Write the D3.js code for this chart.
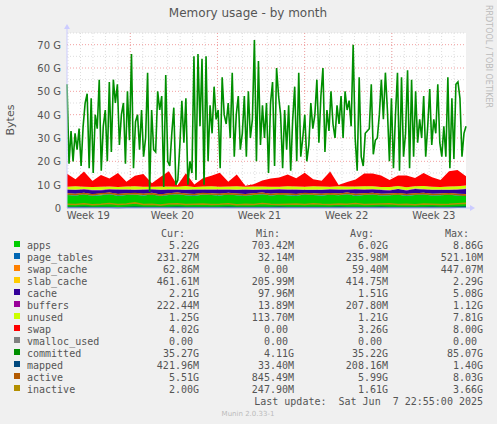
<!DOCTYPE html>
<html lang="en">
<head>
<meta charset="UTF-8">
<title>Memory usage - by month</title>
<script src="https://d3js.org/d3.v7.min.js"></script>
<style>
  body { margin: 0; background: #f0f0f0; }
  svg { display: block; font-family: "DejaVu Sans", sans-serif; }
  .mono { font-family: "DejaVu Sans Mono", monospace; font-size: 10px; fill: #555; white-space: pre; }
</style>
</head>
<body>
<svg id="chart" width="497" height="424"></svg>
<script>
// time range of the graph
const startTime = new Date(2025, 4, 6, 22, 0);
const endTime = new Date(2025, 5, 7, 23, 0);
const weekStarts = [new Date(2025, 4, 12), new Date(2025, 4, 19), new Date(2025, 4, 26), new Date(2025, 5, 2)];
const weekLabels = ["Week 19", "Week 20", "Week 21", "Week 22", "Week 23"];
const yTicks = [0, 10, 20, 30, 40, 50, 60, 70];

// stacked series (G), equally spaced in time
const apps = [5.6,5.4,5.8,5.2,5.5,5.9,5.3,5.6,5.7,5.4,5.8,5.1,5.6,5.9,5.5,5.3,5.7,5.6,5.4,5.8,5.5,5.2,5.6,5.9,5.4,5.7,5.5,5.3,5.8,5.6,5.4,5.7,5.5,5.9,5.3,5.6,5.8,5.4,5.5,5.7,5.3,5.6,5.8,5.4,5.5,5.7,5.4,5.2];
const page_tables = [0.24,0.23,0.25,0.22,0.24,0.26,0.23,0.24,0.22,0.25,0.24,0.23,0.24,0.25,0.23,0.24,0.22,0.24,0.25,0.23,0.24,0.26,0.23,0.24,0.22,0.24,0.25,0.23,0.24,0.23,0.25,0.24,0.22,0.24,0.25,0.23,0.24,0.26,0.23,0.24,0.22,0.24,0.25,0.23,0.24,0.23,0.24,0.23];
const swap_cache = [0.06,0.05,0.08,0.04,0.06,0.07,0.05,0.06,0.09,0.05,0.06,0.04,0.07,0.06,0.05,0.08,0.06,0.05,0.06,0.07,0.04,0.06,0.05,0.08,0.06,0.05,0.06,0.07,0.05,0.06,0.04,0.07,0.06,0.05,0.08,0.06,0.05,0.06,0.07,0.05,0.06,0.04,0.07,0.06,0.05,0.06,0.07,0.06];
const slab_cache = [0.42,0.40,0.44,0.39,0.41,0.43,0.40,0.42,0.45,0.40,0.41,0.39,0.42,0.44,0.40,0.41,0.43,0.40,0.42,0.41,0.39,0.43,0.40,0.42,0.44,0.40,0.41,0.42,0.39,0.43,0.40,0.41,0.42,0.40,0.44,0.41,0.40,0.42,0.43,0.40,0.41,0.39,0.42,0.43,0.40,0.41,0.44,0.46];
const cache = [1.5,1.7,1.3,1.8,1.4,1.2,1.9,1.5,1.3,1.7,1.4,2.0,1.5,1.2,1.6,1.8,1.4,1.5,1.7,1.3,1.6,1.9,1.4,1.2,1.7,1.5,1.6,1.8,1.3,1.4,1.7,1.5,1.6,1.2,1.8,1.5,1.4,1.6,1.3,1.7,1.5,1.9,1.4,1.6,1.5,1.3,1.7,2.2];
const buffers = [0.21,0.20,0.22,0.19,0.21,0.23,0.20,0.21,0.22,0.20,0.21,0.19,0.22,0.21,0.20,0.22,0.21,0.20,0.21,0.22,0.19,0.21,0.20,0.22,0.21,0.20,0.21,0.22,0.20,0.21,0.19,0.22,0.21,0.20,0.22,0.21,0.20,0.21,0.22,0.20,0.21,0.19,0.22,0.21,0.20,0.21,0.22,0.22];
const unused = [1.1,1.3,1.0,1.2,1.3,1.1,0.9,1.2,1.3,1.1,1.0,1.3,1.2,1.1,1.4,1.0,1.2,1.3,1.1,1.2,1.4,1.0,1.3,1.2,1.1,1.0,1.3,1.2,1.1,1.4,1.2,1.0,1.3,1.2,1.1,1.3,1.2,1.0,1.3,1.1,1.2,1.0,1.3,1.2,1.1,1.3,1.2,1.25];
const swap = [5.5,3.0,6.5,2.5,5.0,3.5,6.0,2.0,4.5,5.5,1.5,4.0,6.5,0.5,5.5,1.0,3.5,4.5,6.0,2.0,5.0,0.5,1.0,2.5,3.5,4.0,5.0,3.5,6.0,3.0,2.5,6.5,0.5,2.0,3.0,5.5,5.5,5.0,3.0,4.5,5.0,3.5,5.5,4.0,3.0,6.5,7.0,4.0];
// lines
const active = [6.0,5.8,6.2,5.7,6.1,6.3,5.8,6.0,6.2,5.9,6.1,5.6,6.0,6.3,5.9,5.8,6.2,6.0,5.9,6.1,5.9,5.7,6.0,6.3,5.8,6.1,6.0,5.8,6.2,6.0,5.9,6.1,5.9,6.3,5.8,6.0,6.2,5.8,5.9,6.1,5.8,6.0,6.2,5.8,5.9,6.1,5.8,5.5];
const inactive = [1.6,1.5,1.8,1.4,1.6,1.9,1.5,1.7,2.2,1.5,1.6,1.3,1.7,1.8,1.5,1.6,1.7,1.5,1.6,1.8,1.4,1.6,1.5,1.9,1.6,1.5,1.6,1.7,1.5,1.8,1.6,1.5,1.7,1.6,1.9,1.5,1.6,1.7,1.8,1.5,1.6,1.4,1.7,1.6,1.5,1.6,1.8,2.0];
const mapped = [0.2,0.2,0.3,0.2,0.2,0.2,0.1,0.2,0.3,0.2,0.2,0.2,0.2,0.3,0.2,0.2,0.2,0.2,0.2,0.3,0.2,0.2,0.2,0.2,0.2,0.3,0.2,0.2,0.2,0.2,0.2,0.2,0.3,0.2,0.2,0.2,0.2,0.3,0.2,0.2,0.2,0.2,0.2,0.3,0.2,0.2,0.3,0.42];
const committed = [53,19,33,20,32,25,34,18,35,45,49,17,47,15,40,34,55,16,35,42,20,54,24,55,45,53,27,40,45,19,50,29,66,17,37,40,25,42,22,30,58,7,42,25,24,50,42,48,9,57,20,18,32,43,10,12,27,46,28,47,10,20,15,65,12,66,35,64,10,65,20,44,32,52,38,42,17,56,40,36,45,30,58,22,40,48,25,32,48,22,50,30,38,72,20,63,27,44,30,45,15,45,54,18,60,48,40,17,42,25,44,16,38,52,20,58,22,30,40,20,27,45,34,40,55,28,48,60,24,42,33,50,36,30,44,36,48,30,50,42,46,35,70,30,16,56,22,18,32,33,34,53,23,29,30,40,55,38,58,42,20,47,17,40,58,16,56,22,32,59,17,55,22,50,28,38,30,48,22,35,51,27,38,32,53,28,22,35,22,56,17,47,21,53,54,47,22,32,35];

const legendNames = ["apps","page_tables","swap_cache","slab_cache","cache","buffers","unused","swap","vmalloc_used","committed","mapped","active","inactive"];
const legendColors = ["#00CC00","#0066B3","#FF8000","#FFCC00","#330099","#990099","#CCFF00","#FF0000","#808080","#008F00","#00487D","#B35A00","#B38F00"];
const curVals = ["5.22G","231.27M","62.86M","461.61M","2.21G","222.44M","1.25G","4.02G","0.00","35.27G","421.96M","5.51G","2.00G"];
const minVals = ["703.42M","32.14M","0.00","205.99M","97.96M","13.89M","113.70M","0.00","0.00","4.11G","33.40M","845.49M","247.90M"];
const avgVals = ["6.02G","235.98M","59.40M","414.75M","1.51G","207.80M","1.21G","3.26G","0.00","35.22G","208.16M","5.99G","1.61G"];
const maxVals = ["8.86G","521.10M","447.07M","2.29G","5.08G","1.12G","7.81G","8.00G","0.00","85.07G","1.40G","8.03G","3.66G"];

const svg = d3.select("#chart");
const pLeft = 67, pRight = 466, pTop = 33, pBottom = 208;

const x = d3.scaleTime().domain([startTime, endTime]).range([pLeft, pRight]);
const y = d3.scaleLinear().domain([0, 75]).range([pBottom, pTop]);
const tAt = (i, n) => new Date(+startTime + (endTime - startTime) * i / (n - 1));

svg.append("rect").attr("x", pLeft).attr("y", pTop).attr("width", pRight - pLeft).attr("height", pBottom - pTop).attr("fill", "#fff");

// grid
const days = d3.timeDay.range(startTime, endTime);
svg.append("g").selectAll("line").data(days).join("line")
  .attr("x1", d => x(d)).attr("x2", d => x(d)).attr("y1", pTop).attr("y2", pBottom)
  .attr("stroke", "#ddd").attr("stroke-dasharray", "1,2");
svg.append("g").selectAll("line").data(d3.range(5, 76, 5)).join("line")
  .attr("x1", pLeft).attr("x2", pRight).attr("y1", d => y(d)).attr("y2", d => y(d))
  .attr("stroke", d => d % 10 === 0 ? "#f2a0a0" : "#ddd").attr("stroke-dasharray", "1,2");
svg.append("g").selectAll("line").data(weekStarts).join("line")
  .attr("x1", d => x(d)).attr("x2", d => x(d)).attr("y1", pTop).attr("y2", pBottom)
  .attr("stroke", "#f2a0a0").attr("stroke-dasharray", "1,2");

// stacked areas
const stackSeries = [apps, page_tables, swap_cache, slab_cache, cache, buffers, unused, swap];
const rows = apps.map((_, i) => stackSeries.map(s => s[i]));
const stack = d3.stack().keys(d3.range(stackSeries.length))(rows);
const area = d3.area().x((d, i) => x(tAt(i, apps.length))).y0(d => y(d[0])).y1(d => y(d[1]));
svg.append("g").selectAll("path").data(stack).join("path")
  .attr("d", area).attr("fill", (d, i) => legendColors[i]);

// lines
const line = d3.line().x((d, i, a) => x(tAt(i, a.length))).y(d => y(d));
[[mapped, "#00487D"], [active, "#B35A00"], [inactive, "#B38F00"], [committed, "#008F00"]].forEach(([s, c]) => {
  svg.append("path").attr("d", line(s)).attr("fill", "none").attr("stroke", c).attr("stroke-width", 1.6);
});

// axes
svg.append("line").attr("x1", pLeft).attr("x2", pRight + 6).attr("y1", pBottom).attr("y2", pBottom).attr("stroke", "#ccccff");
svg.append("line").attr("x1", pLeft).attr("x2", pLeft).attr("y1", pBottom).attr("y2", pTop - 6).attr("stroke", "#ccccff");
svg.append("path").attr("d", `M${pRight + 4},${pBottom - 3}L${pRight + 9},${pBottom}L${pRight + 4},${pBottom + 3}Z`).attr("fill", "#ccccff");
svg.append("path").attr("d", `M${pLeft - 3},${pTop - 4}L${pLeft},${pTop - 9}L${pLeft + 3},${pTop - 4}Z`).attr("fill", "#ccccff");

svg.append("g").selectAll("text").data(yTicks).join("text")
  .attr("x", 61).attr("y", d => y(d) + 4).attr("text-anchor", "end")
  .attr("font-size", 10).attr("fill", "#555").text(d => d === 0 ? "0" : d + " G");
svg.append("g").selectAll("text").data(weekLabels).join("text")
  .attr("x", (d, i) => i === 0 ? x(weekStarts[0]) - 42 : x(weekStarts[i - 1]) + 42)
  .attr("y", 219).attr("text-anchor", "middle").attr("font-size", 10).attr("fill", "#555").text(d => d);

svg.append("text").attr("transform", "translate(14,120) rotate(-90)").attr("text-anchor", "middle")
  .attr("font-size", 11).attr("fill", "#555").text("Bytes");
svg.append("text").attr("x", 248).attr("y", 17).attr("text-anchor", "middle")
  .attr("font-size", 12).attr("fill", "#555").text("Memory usage - by month");
svg.append("text").attr("transform", "translate(486,5) rotate(90)")
  .attr("font-size", 8).attr("fill", "#bbb").text("RRDTOOL / TOBI OETIKER");

// legend
const cols = [[199, "Cur:", curVals], [294, "Min:", minVals], [388, "Avg:", avgVals], [483, "Max:", maxVals]];
cols.forEach(([cx, h, vals]) => {
  svg.append("text").attr("class", "mono").attr("x", cx - 14).attr("y", 237).attr("text-anchor", "end").text(h);
  svg.append("g").selectAll("text").data(vals).join("text").attr("class", "mono")
    .attr("x", v => v === "0.00" ? cx - 6 : cx).attr("y", (d, i) => 249 + i * 12)
    .attr("text-anchor", "end").text(v => v);
});
const lg = svg.append("g").selectAll("g").data(legendNames).join("g")
  .attr("transform", (d, i) => `translate(0,${249 + i * 12})`);
lg.append("rect").attr("x", 14).attr("y", -8).attr("width", 6).attr("height", 6).attr("fill", (d, i) => legendColors[i]);
lg.append("text").attr("class", "mono").attr("x", 27).attr("y", 0).text(d => d);

svg.append("text").attr("class", "mono").attr("x", 483).attr("y", 405).attr("text-anchor", "end")
  .text("Last update:  Sat Jun  7 22:55:00 2025");
svg.append("text").attr("x", 248).attr("y", 416).attr("text-anchor", "middle")
  .attr("font-size", 7).attr("fill", "#bbb").text("Munin 2.0.33-1");
</script>
</body>
</html>
